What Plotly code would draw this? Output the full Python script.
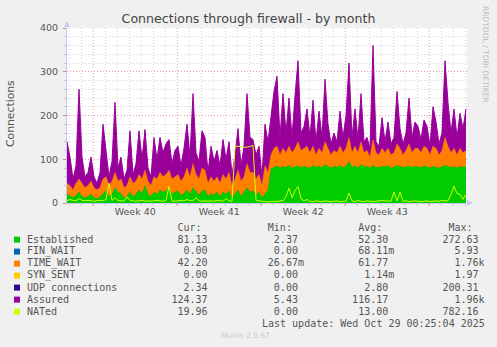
import pandas as pd
import plotly.graph_objects as go

# ---------------- data (6-hour steps) ----------------
start_time = "2025-09-25 19:30"
end_time = "2025-10-29 03:30"
n_points = 134

established = [20, 15, 12, 18, 25, 15, 12, 15, 20, 12, 10, 14, 22, 28, 15, 20, 35, 25, 22, 12,
               15, 25, 15, 20, 30, 22, 40, 20, 15, 25, 20, 30, 25, 28, 35, 20, 25, 28, 18, 22,
               30, 20, 35, 25, 18, 28, 30, 15, 22, 18, 25, 15, 25, 20, 28, 12, 20, 30, 15, 25,
               35, 25, 28, 18, 25, 12, 20, 30, 78, 82, 85, 80, 84, 82, 86, 80, 83, 85, 81, 84,
               82, 80, 86, 82, 84, 81, 88, 83, 80, 84, 82, 86, 81, 84, 95, 82, 85, 81, 88, 83,
               84, 80, 86, 82, 81, 84, 83, 85, 80, 82, 86, 84, 81, 83, 85, 82, 84, 83, 81, 85,
               83, 80, 84, 82, 80, 83, 86, 84, 81, 83, 80, 84, 82, 83]

time_wait = [25, 25, 18, 27, 30, 30, 23, 25, 30, 23, 20, 21, 33, 32, 25, 30, 35, 25, 33, 23,
             25, 35, 30, 30, 35, 33, 35, 30, 25, 35, 35, 40, 35, 37, 40, 35, 35, 37, 32, 38,
             50, 40, 55, 40, 37, 52, 45, 30, 38, 32, 35, 30, 40, 35, 42, 28, 35, 45, 35, 35,
             55, 45, 42, 37, 40, 28, 65, 40, 32, 43, 45, 30, 41, 33, 44, 35, 42, 55, 39, 41,
             48, 35, 44, 28, 41, 34, 52, 42, 30, 36, 33, 44, 34, 41, 55, 33, 45, 34, 52, 32,
             36, 25, 59, 33, 29, 41, 32, 40, 30, 33, 49, 41, 29, 37, 50, 33, 41, 42, 34, 45,
             42, 30, 46, 43, 30, 37, 64, 46, 34, 42, 30, 41, 33, 37]

assured = [140, 105, 55, 85, 260, 105, 60, 70, 105, 60, 45, 70, 180, 120, 60, 95, 230, 80, 105, 55,
           75, 165, 65, 90, 165, 100, 168, 80, 60, 150, 100, 150, 115, 135, 145, 90, 120, 130, 85, 125,
           180, 105, 250, 115, 95, 165, 150, 70, 130, 95, 120, 85, 145, 100, 140, 65, 110, 170, 85, 130,
           250, 150, 145, 110, 130, 60, 180, 140, 195, 255, 290, 150, 250, 160, 240, 150, 245, 325, 160, 175,
           215, 150, 235, 140, 210, 150, 283, 180, 135, 160, 140, 210, 150, 200, 320, 150, 215, 145, 250, 140,
           150, 125, 360, 140, 130, 195, 140, 185, 135, 150, 255, 170, 135, 160, 240, 150, 185, 175, 145, 190,
           175, 130, 220, 185, 135, 160, 325, 230, 160, 215, 150, 205, 170, 215]

nated = [5, 8, 6, 5, 10, 6, 5, 6, 5, 4, 5, 6, 5, 8, 45, 6, 12, 6, 5, 4,
         14, 6, 5, 4, 5, 6, 4, 5, 4, 5, 6, 5, 4, 6, 38, 5, 4, 5, 6, 5,
         8, 5, 6, 12, 5, 4, 5, 4, 5, 4, 6, 5, 4, 10, 5, 4, 128, 130, 128, 127,
         128, 129, 132, 6, 5, 4, 3, 2, 3, 4, 3, 5, 5, 15, 34, 12, 28, 38, 10, 5,
         8, 4, 3, 5, 4, 3, 5, 4, 3, 4, 5, 3, 4, 4, 23, 5, 3, 6, 4, 3,
         5, 4, 3, 4, 5, 6, 5, 5, 4, 25, 5, 25, 4, 5, 3, 4, 5, 4, 3, 4,
         5, 3, 4, 5, 4, 6, 5, 5, 20, 38, 22, 20, 8, 20]

series_names = ["Established", "FIN_WAIT", "TIME_WAIT", "SYN_SENT",
                "UDP connections", "Assured", "NATed"]
series_colors = ["#00CC00", "#0066B3", "#FF8000", "#FFCC00",
                 "#330099", "#990099", "#CCFF00"]
stat_cur = ["81.13", "0.00", "42.20", "0.00", "2.34", "124.37", "19.96"]
stat_min = ["2.37", "0.00", "26.67m", "0.00", "0.00", "5.43", "0.00"]
stat_avg = ["52.30", "68.11m", "61.77", "1.14m", "2.80", "116.17", "13.00"]
stat_max = ["272.63", "5.93", "1.76k", "1.97", "200.31", "1.96k", "782.16"]

week_labels = ["Week 40", "Week 41", "Week 42", "Week 43"]
week_label_pos = ["2025-10-01 12:00", "2025-10-08 12:00", "2025-10-15 12:00", "2025-10-22 12:00"]
week_starts = ["2025-09-28", "2025-10-05", "2025-10-12", "2025-10-19", "2025-10-26"]
y_ticks = [0, 100, 200, 300, 400]
last_update = "Last update: Wed Oct 29 00:25:04 2025"

times = pd.date_range(start_time, periods=n_points, freq="6h")

# ---------------- layout geometry ----------------
W, H = 497, 347
PL, PR, PT, PB = 67, 467, 28, 203   # plot area in pixels


def px(x):
    return (x - PL) / (PR - PL)


def py(y):
    return (PB - y) / (PB - PT)


fig = go.Figure()

# Assured drawn first as a full area, stack drawn on top of it
fig.add_trace(go.Scatter(x=times, y=assured, mode="lines", fill="tozeroy",
                         line=dict(color="#990099", width=1), fillcolor="#990099",
                         hoverinfo="skip"))
fig.add_trace(go.Scatter(x=times, y=established, mode="lines", stackgroup="s",
                         line=dict(color="#00CC00", width=0.5), fillcolor="#00CC00",
                         hoverinfo="skip"))
fig.add_trace(go.Scatter(x=times, y=time_wait, mode="lines", stackgroup="s",
                         line=dict(color="#FF8000", width=0.5), fillcolor="#FF8000",
                         hoverinfo="skip"))
fig.add_trace(go.Scatter(x=times, y=nated, mode="lines",
                         line=dict(color="#CCFF00", width=1), hoverinfo="skip"))

shapes = []
# vertical daily (minor) and weekly (major) grid
days = pd.date_range("2025-09-26", "2025-10-29", freq="D")
for d in days:
    major = d.strftime("%Y-%m-%d") in week_starts
    col = "#E0A0A0" if major else "#D4D4D4"
    shapes.append(dict(type="line", xref="x", yref="paper", x0=d, x1=d, y0=0, y1=1,
                       layer="below", line=dict(color=col, width=1, dash="1px,2px")))
    shapes.append(dict(type="line", xref="x", yref="paper", x0=d, x1=d, y0=0,
                       y1=-3 / 175, layer="above",
                       line=dict(color="#E08080" if major else "#C8C8C8", width=1)))

# axis arrows
ac = "#C8C8F8"
shapes.append(dict(type="path", xref="paper", yref="paper",
                   path=f"M {px(64)} {py(27)} L {px(67)} {py(21)} L {px(70)} {py(27)} Z",
                   fillcolor=ac, line=dict(color=ac, width=0)))
shapes.append(dict(type="path", xref="paper", yref="paper",
                   path=f"M {px(467)} {py(200)} L {px(473)} {py(203)} L {px(467)} {py(206)} Z",
                   fillcolor=ac, line=dict(color=ac, width=0)))

annotations = []
mono = dict(family="DejaVu Sans Mono", size=10, color="#555555")
NB = "\u00a0"


def legend_row(label, vals):
    s = label
    ends = [30, 45, 60, 75]
    for v, e in zip(vals, ends):
        num = v.rstrip("mk")
        suf = v[len(num):]
        s = s.ljust(e - len(num)) + num + suf
    return s.replace(" ", NB)


header = ("".ljust(25) + "Cur:").ljust(40) + "Min:"
header = header.ljust(55) + "Avg:"
header = header.ljust(70) + "Max:"
annotations.append(dict(text=header.replace(" ", NB), x=px(26), y=py(227), xref="paper",
                        yref="paper", xanchor="left", yanchor="middle", showarrow=False,
                        font=mono, borderpad=0))

for k, name in enumerate(series_names):
    yc = 239.3 + 12 * k
    annotations.append(dict(text=legend_row(name, [stat_cur[k], stat_min[k], stat_avg[k], stat_max[k]]),
                            x=px(26), y=py(yc), xref="paper", yref="paper", xanchor="left",
                            yanchor="middle", showarrow=False, font=mono, borderpad=0))
    shapes.append(dict(type="rect", xref="paper", yref="paper", x0=px(14), x1=px(20),
                       y0=py(yc + 3.3), y1=py(yc - 2.7), fillcolor=series_colors[k],
                       line=dict(width=0)))

annotations.append(dict(text=last_update.replace(" ", NB), x=px(260.8), y=py(323), xref="paper",
                        yref="paper", xanchor="left", yanchor="middle", showarrow=False,
                        font=mono, borderpad=0))

annotations.append(dict(text="Connections", x=px(10), y=py(114), xref="paper", yref="paper",
                        textangle=-90, showarrow=False, xanchor="center", yanchor="middle",
                        font=dict(family="DejaVu Sans", size=10.8, color="#555555")))
annotations.append(dict(text="RRDTOOL / TOBI OETIKER", x=px(486), y=py(54), xref="paper",
                        yref="paper", textangle=90, showarrow=False, xanchor="center",
                        yanchor="middle",
                        font=dict(family="DejaVu Sans", size=7.5, color="#BBBBBB")))
annotations.append(dict(text="Munin 2.0.67", x=px(245), y=py(335), xref="paper", yref="paper",
                        showarrow=False, xanchor="center", yanchor="middle",
                        font=dict(family="DejaVu Sans", size=7.5, color="#C8C8C8")))

fig.update_layout(
    width=W, height=H,
    margin=dict(l=PL, r=W - PR, t=PT, b=H - PB),
    paper_bgcolor="#F0F0F0", plot_bgcolor="#FFFFFF",
    showlegend=False,
    title=dict(text="Connections through firewall - by month", xref="container", x=0.5,
               xanchor="center", yref="container", y=1 - 19 / H, yanchor="middle",
               font=dict(family="DejaVu Sans", size=12.6, color="#444444")),
    xaxis=dict(type="date", range=[start_time, end_time], showgrid=False, zeroline=False,
               tickmode="array", tickvals=week_label_pos, ticktext=week_labels, ticks="",
               showline=True, linecolor="#C8C8F8", linewidth=1,
               tickfont=dict(family="DejaVu Sans", size=9.5, color="#555555")),
    yaxis=dict(range=[0, 400], tickmode="array", tickvals=y_ticks, showgrid=True,
               gridcolor="#E0A0A0", griddash="1px,2px", gridwidth=1, zeroline=False,
               showline=True, linecolor="#C8C8F8", linewidth=1,
               ticks="outside", ticklen=3, tickcolor="#E08080", ticklabelstandoff=3,
               minor=dict(dtick=20, tick0=0, showgrid=True, gridcolor="#D4D4D4",
                          griddash="1px,2px", ticks="outside", ticklen=2, tickcolor="#C8C8C8"),
               tickfont=dict(family="DejaVu Sans", size=9.5, color="#555555")),
    shapes=shapes,
    annotations=annotations,
)

fig.write_html("out.html")
